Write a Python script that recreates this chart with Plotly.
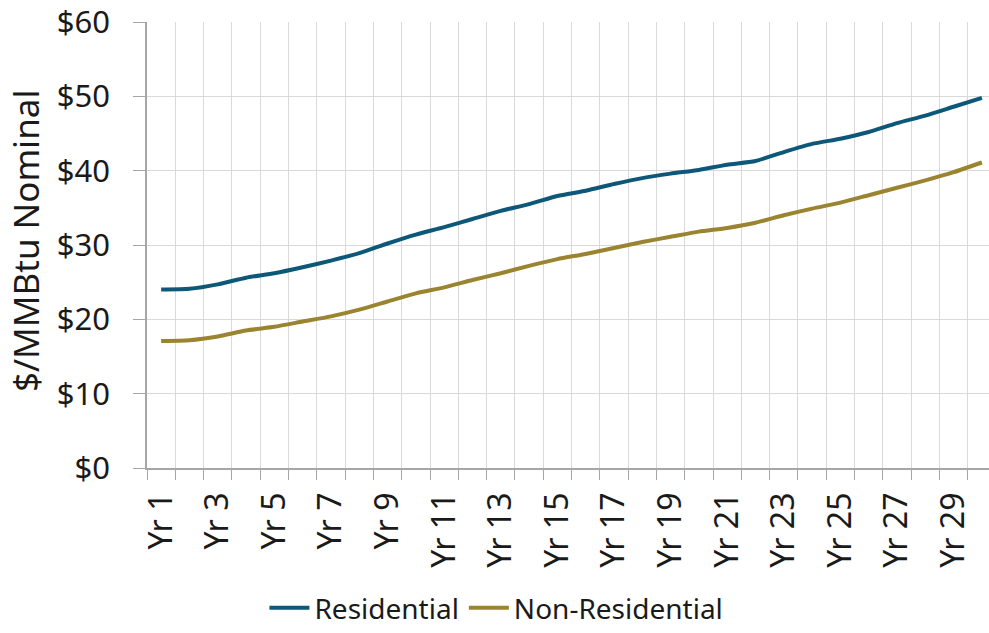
import plotly.graph_objects as go

# Price projection, $/MMBtu (nominal), years 1-30
years = list(range(1, 31))
year_labels = [f"Yr {y}" for y in years]

residential = [24.0, 24.1, 24.7, 25.6, 26.2, 27.0, 27.9, 28.9, 30.2, 31.4,
               32.4, 33.5, 34.6, 35.5, 36.6, 37.3, 38.2, 39.0, 39.6, 40.1,
               40.8, 41.3, 42.5, 43.6, 44.3, 45.2, 46.4, 47.4, 48.6, 49.8]
non_residential = [17.1, 17.2, 17.7, 18.5, 19.0, 19.7, 20.4, 21.3, 22.4, 23.5,
                   24.3, 25.3, 26.2, 27.2, 28.1, 28.8, 29.6, 30.4, 31.1, 31.8,
                   32.3, 33.0, 34.0, 34.9, 35.7, 36.7, 37.7, 38.7, 39.8, 41.1]

y_ticks = [0, 10, 20, 30, 40, 50, 60]
y_tick_labels = [f"${v}" for v in y_ticks]
y_title = "$/MMBtu Nominal"

FONT = "Noto Sans"
TEXT = "#1a1a1a"
GRID = "#d9d9d9"
AXIS = "#a6a6a6"

fig = go.Figure()
fig.add_trace(go.Scatter(
    x=years, y=residential, name="Residential", mode="lines",
    line=dict(color="#0d5879", width=4, shape="spline", smoothing=0.6),
))
fig.add_trace(go.Scatter(
    x=years, y=non_residential, name="Non-Residential", mode="lines",
    line=dict(color="#9b8430", width=4, shape="spline", smoothing=0.6),
))

# category boundaries carry the grid and tick marks, odd years carry labels
boundaries = [y - 0.5 for y in years] + [years[-1] + 0.5]

fig.update_layout(
    width=989, height=633,
    margin=dict(l=147, r=0, t=22, b=163),
    paper_bgcolor="white", plot_bgcolor="white",
    font=dict(family=FONT, color=TEXT),
    showlegend=True,
    legend=dict(
        orientation="h", x=0.415, xanchor="center", y=-0.315, yanchor="middle",
        font=dict(family=FONT, size=28, color=TEXT),
        itemwidth=40, tracegroupgap=0,
    ),
    xaxis=dict(
        range=[0.5, 30.25],
        tickmode="array",
        tickvals=years[::2],
        ticktext=year_labels[::2],
        tickangle=-90,
        tickfont=dict(family=FONT, size=32, color=TEXT),
        ticks="", showgrid=False, zeroline=False,
        showline=True, linecolor=AXIS, linewidth=1.5,
        ticklabelstandoff=10,
        ticklabeloverflow="allow",
        minor=dict(
            tickvals=boundaries, showgrid=True, gridcolor=GRID, gridwidth=1,
            ticks="outside", ticklen=10, tickcolor=AXIS, tickwidth=1,
        ),
    ),
    yaxis=dict(
        range=[0, 60],
        tickmode="array",
        tickvals=y_ticks,
        ticktext=y_tick_labels,
        tickfont=dict(family=FONT, size=31, color=TEXT),
        ticks="outside", ticklen=12, tickcolor=AXIS, tickwidth=1,
        showgrid=True, gridcolor=GRID, gridwidth=1,
        zeroline=False,
        showline=True, linecolor=AXIS, linewidth=1.5,
        ticklabelstandoff=17,
        ticklabeloverflow="allow",
    ),
    annotations=[dict(
        text=y_title, textangle=-90,
        xref="paper", yref="paper", x=-0.1746, y=0.51,
        xanchor="left", yanchor="middle", showarrow=False,
        font=dict(family=FONT, size=35, color=TEXT),
    )],
)

fig.write_html("out.html")
